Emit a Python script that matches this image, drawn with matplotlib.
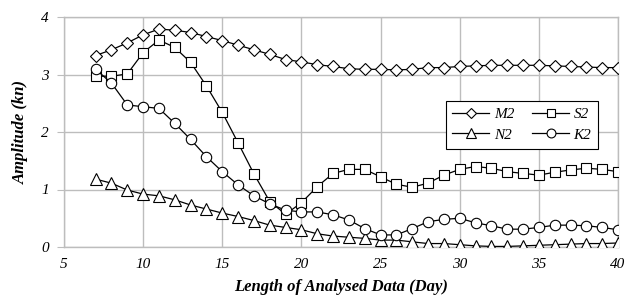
import matplotlib
matplotlib.use("Agg")
import matplotlib.pyplot as plt
import numpy as np

days = list(range(7, 41))
m2 = [3.33, 3.43, 3.55, 3.69, 3.79, 3.77, 3.73, 3.66, 3.59, 3.51, 3.43, 3.35, 3.26, 3.22,
      3.17, 3.14, 3.10, 3.09, 3.09, 3.08, 3.09, 3.12, 3.12, 3.14, 3.15, 3.16, 3.16, 3.16,
      3.16, 3.15, 3.14, 3.13, 3.12, 3.12]
s2 = [2.97, 2.97, 3.01, 3.38, 3.60, 3.47, 3.21, 2.80, 2.34, 1.81, 1.27, 0.79, 0.57, 0.77,
      1.05, 1.28, 1.35, 1.35, 1.22, 1.09, 1.04, 1.11, 1.25, 1.35, 1.40, 1.37, 1.31, 1.28,
      1.25, 1.30, 1.34, 1.37, 1.35, 1.31]
n2 = [1.18, 1.11, 0.99, 0.92, 0.89, 0.82, 0.73, 0.66, 0.59, 0.53, 0.46, 0.38, 0.34, 0.30,
      0.23, 0.19, 0.17, 0.15, 0.12, 0.12, 0.09, 0.06, 0.06, 0.04, 0.02, 0.01, 0.01, 0.02,
      0.03, 0.04, 0.05, 0.06, 0.06, 0.07]
k2 = [3.09, 2.85, 2.47, 2.44, 2.41, 2.15, 1.87, 1.57, 1.31, 1.08, 0.89, 0.75, 0.64, 0.61,
      0.61, 0.56, 0.47, 0.32, 0.21, 0.21, 0.32, 0.44, 0.48, 0.50, 0.42, 0.37, 0.31, 0.31,
      0.34, 0.38, 0.38, 0.37, 0.34, 0.30]

series = [("M2", m2, "D", 6.0), ("S2", s2, "s", 7.0), ("N2", n2, "^", 8.0), ("K2", k2, "o", 7.5)]

plt.rcParams["font.family"] = ["Liberation Serif", "DejaVu Serif"]

fig = plt.figure(figsize=(6.27, 3.06), dpi=100)
ax = fig.add_axes([64/627, 1-247/306, (618-64)/627, (247-17)/306])

handles = {}
for name, vals, mk, ms in series:
    h, = ax.plot(days, vals, color="black", lw=0.9, marker=mk, ms=ms,
                 mfc="white", mec="black", mew=0.8, label=name, zorder=3)
    handles[name] = h

ax.set_xlim(5, 40)
ax.set_ylim(0, 4)
ax.set_xticks([5, 10, 15, 20, 25, 30, 35, 40])
ax.set_yticks([0, 1, 2, 3, 4])
ax.grid(True, color="#bdbdbd", lw=1.0, zorder=0)
for s in ax.spines.values():
    s.set_color("#bdbdbd")
    s.set_linewidth(1.0)
ax.tick_params(axis="y", length=5, color="#bdbdbd", labelsize=11, pad=6)
ax.tick_params(axis="x", length=0, labelsize=11, pad=8)
for lbl in ax.get_xticklabels() + ax.get_yticklabels():
    lbl.set_fontstyle("italic")

ax.set_xlabel("Length of Analysed Data (Day)", fontsize=12, fontweight="bold",
              fontstyle="italic", labelpad=6)
ax.set_ylabel("Amplitude (kn)", fontsize=12, fontweight="bold", fontstyle="italic",
              labelpad=9)

order = ["M2", "N2", "S2", "K2"]
leg = ax.legend([handles[n] for n in order], order, loc="upper left",
                bbox_to_anchor=(0.675, 0.67), ncol=2, frameon=True,
                fancybox=False, edgecolor="black", framealpha=1, markerscale=0.85,
                handlelength=2.4, columnspacing=1.2, borderpad=0.45, labelspacing=0.45,
                handletextpad=0.3, prop={"style": "italic", "size": 11})
leg.get_frame().set_linewidth(0.8)

fig.savefig("out.png", dpi=100)
